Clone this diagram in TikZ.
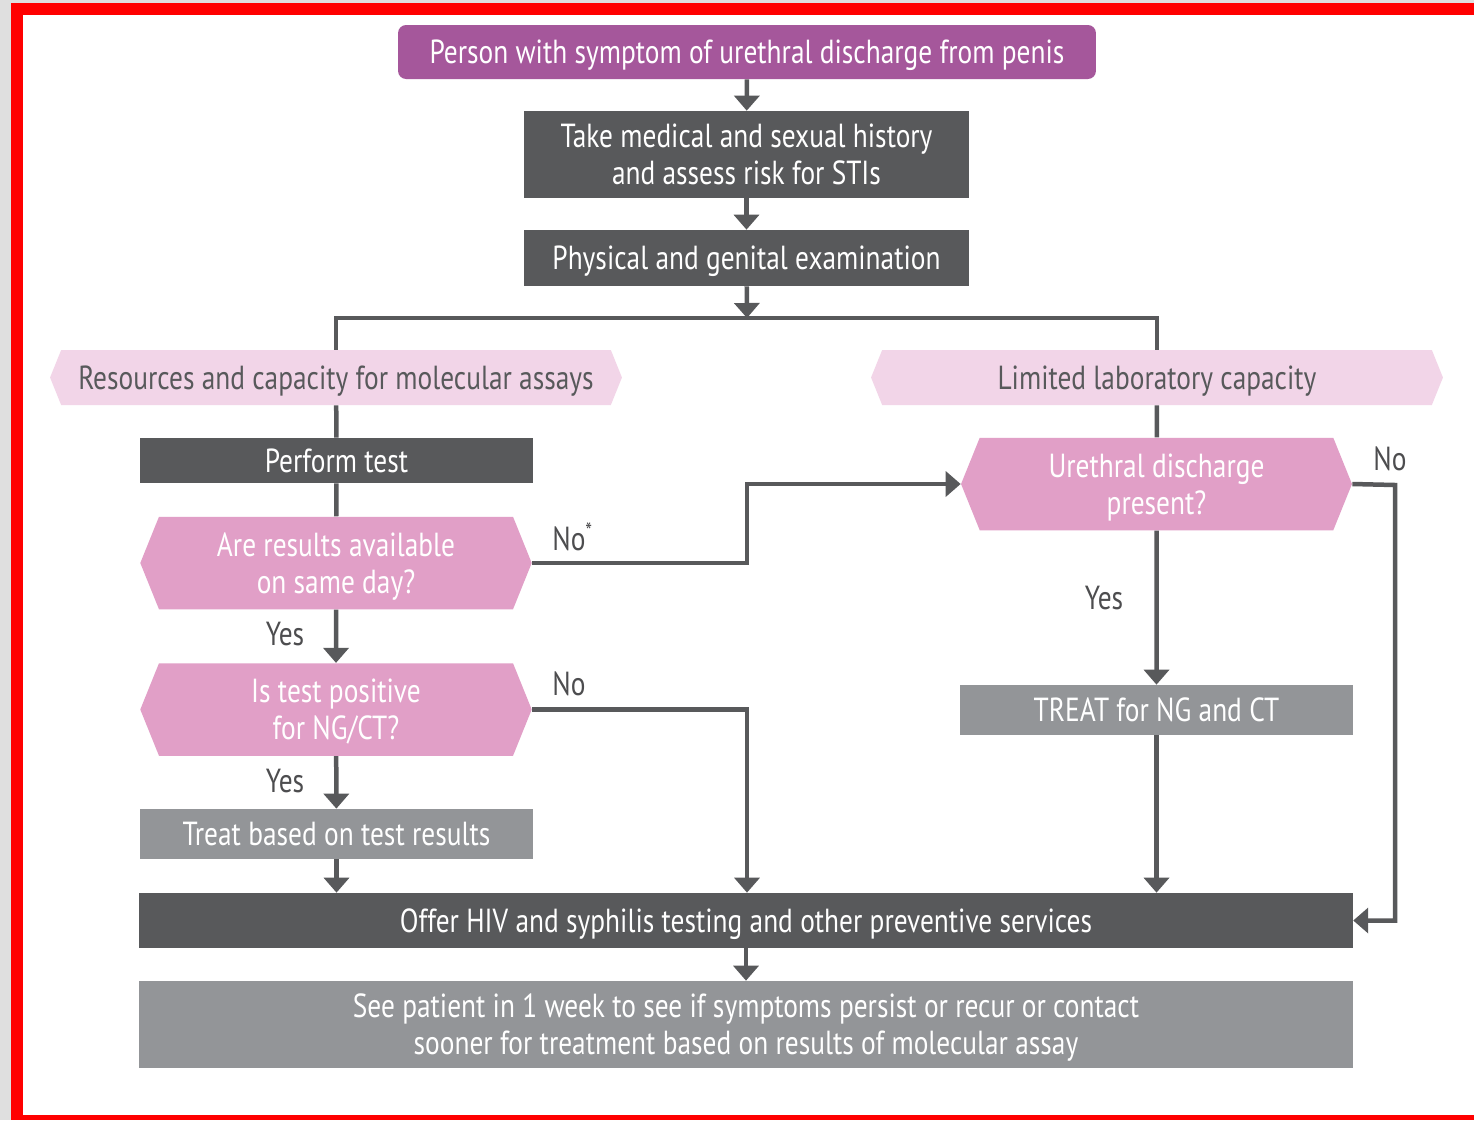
\documentclass[tikz,border=0pt]{standalone}
\usepackage{fontspec}
\setmainfont[FakeStretch=0.82]{PT Sans}
\usetikzlibrary{shapes.symbols,arrows.meta}
\definecolor{plum}{HTML}{A5579B}
\definecolor{darkbox}{HTML}{58595B}
\definecolor{greybox}{HTML}{939598}
\definecolor{pinkhex}{HTML}{E19FC7}
\definecolor{palehex}{HTML}{F2D5E8}
\definecolor{labelgrey}{HTML}{4D4D4F}
\begin{document}
\begin{tikzpicture}[x=0.02cm,y=-0.02cm,
  every node/.style={font=\fontsize{19}{21}\selectfont,inner sep=0pt,align=center,text depth=0pt},
  darkstep/.style={fill=darkbox,text=white},
  greystep/.style={fill=greybox,text=white},
  askhex/.style={signal,signal to=west and east,signal pointer angle=136,fill=pinkhex,text=white,minimum width=7.83cm,minimum height=1.85cm},
  branch/.style={signal,signal to=west and east,signal pointer angle=136,fill=palehex,text=darkbox,minimum width=11.44cm,minimum height=1.1cm},
  answer/.style={text=labelgrey},
  link/.style={draw=darkbox,line width=0.09cm},
  arr/.style={link,-{Triangle[width=0.5cm,length=0.3cm]}}]
% frame
\fill[gray!25] (0,0) rectangle (1474,1120);
\fill[red] (11,3) rectangle (1474,1120);
\fill[white] (23,15) rectangle (1474,1115);
\useasboundingbox (0,0) rectangle (1474,1120);
% common trunk
\node[fill=plum,text=white,rounded corners=0.16cm,minimum width=13.96cm,minimum height=1.08cm] (start) at (747,52) {Person with symptom of urethral discharge from penis};
\node[darkstep,minimum width=8.9cm,minimum height=1.74cm] (hist) at (746.5,154.5) {Take medical and sexual history\\and assess risk for STIs};
\node[darkstep,minimum width=8.9cm,minimum height=1.12cm] (exam) at (746.5,258) {Physical and genital examination};
\coordinate (split) at (747,318);
\node[branch] (res) at (336,377.5) {Resources and capacity for molecular assays};
\node[branch] (lim) at (1157,377.5) {Limited laboratory capacity};
% left: molecular assays
\node[darkstep,minimum width=7.86cm,minimum height=0.9cm] (perf) at (336.5,460.5) {Perform test};
\node[askhex] (same) at (336,563) {Are results available\\on same day?};
\node[askhex] (pos) at (336,709.5) {Is test positive\\for NG/CT?};
\node[greystep,minimum width=7.86cm,minimum height=1cm] (tbased) at (336.5,834) {Treat based on test results};
% right: limited capacity
\node[askhex,minimum width=7.82cm] (ureth) at (1156.5,484) {Urethral discharge\\present?};
\node[greystep,minimum width=7.86cm,minimum height=1cm] (treat) at (1156.5,710) {TREAT for NG and CT};
\coordinate (rail) at (1395,485);
% bottom
\node[darkstep,minimum width=24.28cm,minimum height=1.1cm] (offer) at (746,920.5) {Offer HIV and syphilis testing and other preventive services};
\node[greystep,minimum width=24.28cm,minimum height=1.74cm] (see) at (746,1024.5) {See patient in 1 week to see if symptoms persist or recur or contact\\sooner for treatment based on results of molecular assay};
% answers
\node[answer,anchor=west] (nostar) at (552,537) {No\textsuperscript{*}};
\node[answer,anchor=west] (nopos) at (552,684) {No};
\node[answer] (yessame) at (285,634) {Yes};
\node[answer] (yespos) at (285,781) {Yes};
\node[answer] (yesureth) at (1104,598) {Yes};
\node[answer] (noureth) at (1390,459) {No};
% connectors
\draw[arr] (start) -- (hist);
\draw[arr] (hist) -- (exam);
\draw[arr] (exam) -- (split);
\draw[link] (res.north) |- (split) -| (lim.north);
\draw[link] (res) -- (perf);
\draw[link] (perf) -- (same);
\draw[arr] (same) -- (pos);
\draw[arr] (pos) -- (tbased);
\draw[arr] (tbased) -- (tbased.south |- offer.north);
\draw[arr] (same.east) -- (same.east -| split) |- (ureth.west);
\draw[arr] (pos.east) -| (split |- offer.north);
\draw[link] (lim) -- (ureth);
\draw[arr] (ureth) -- (treat);
\draw[arr] (treat) -- (treat.south |- offer.north);
\draw[arr] (ureth.east) -- (rail) |- (offer.east);
\draw[arr] (offer) -- (see);
\end{tikzpicture}
\end{document}
